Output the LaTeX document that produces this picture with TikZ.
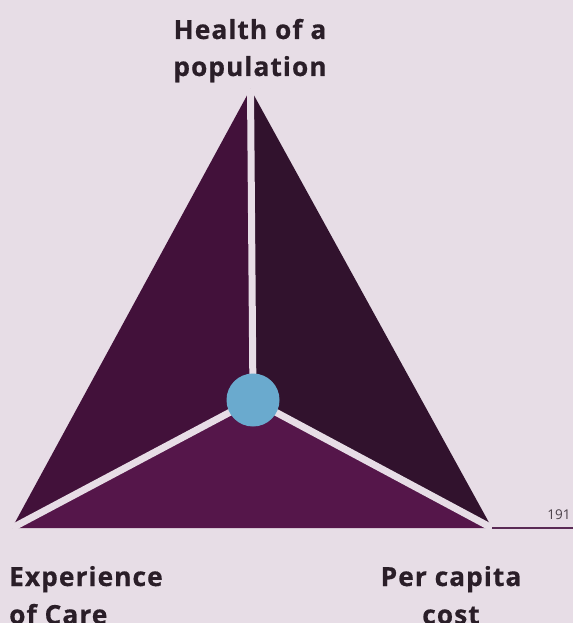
\documentclass[tikz,border=0pt]{standalone}
\usepackage{fontspec}
\setmainfont{Open Sans}
\newfontfamily\labfont[LetterSpace=4,FakeBold=0.6]{Open Sans Bold}
\definecolor{bgc}{HTML}{E7DDE6}
\definecolor{faceL}{HTML}{42113A}
\definecolor{faceR}{HTML}{31122D}
\definecolor{faceB}{HTML}{55164A}
\definecolor{hubc}{HTML}{6AAACE}
\definecolor{txtc}{HTML}{2A1E28}
\definecolor{rulec}{HTML}{5A2A55}
\begin{document}
\begin{tikzpicture}[x=1pt,y=-1pt,
  lab/.style={font=\labfont\fontsize{26.3}{26.3}\selectfont, text=txtc, inner sep=0pt, anchor=base},
  gap/.style={draw=bgc, line width=7pt},
  face/.style={draw=none}]
\fill[bgc] (0,0) rectangle (573,623);
\useasboundingbox (0,0) rectangle (573,623);
\coordinate (A) at (250.5,89);
\coordinate (B) at (12,528);
\coordinate (C) at (492,528);
\coordinate (O) at (253,400);
\fill[faceL] (A) -- (B) -- (O) -- cycle;
\fill[faceR] (A) -- (O) -- (C) -- cycle;
\fill[faceB] (B) -- (C) -- (O) -- cycle;
\draw[gap] (O) -- (A);
\draw[gap] (O) -- (B);
\draw[gap] (O) -- (C);
\node[circle, fill=hubc, minimum size=53pt, inner sep=0pt] (hub) at (O) {};
\node[lab] (h1) at (250,39) {Health of a};
\node[lab] (h2) at (250,76) {population};
\node[lab, anchor=base west] (e1) at (9,586) {Experience};
\node[lab, anchor=base west] (e2) at (9,624) {of Care};
\node[lab] (p1) at (451,586) {Per capita};
\node[lab] (p2) at (451,624) {cost};
\coordinate (r1) at (492,528);
\coordinate (r2) at (573,528);
\draw[rulec, line width=1.3pt] (r1) -- (r2);
\node[font=\fontsize{13.5}{13.5}\selectfont, text=txtc!85, inner sep=0pt, anchor=base] (pg) at (559,519) {191};
\end{tikzpicture}
\end{document}
